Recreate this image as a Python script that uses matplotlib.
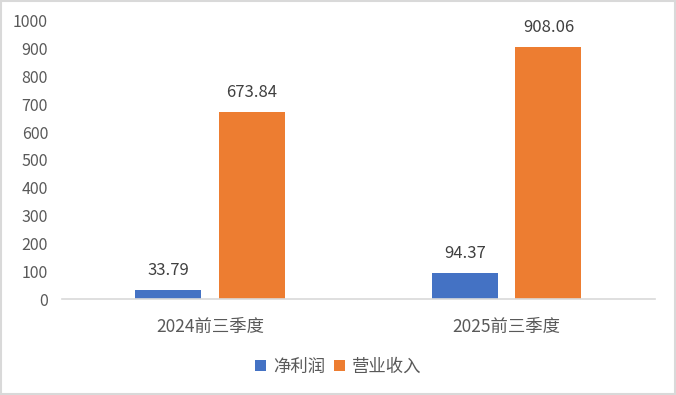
import numpy as np
import matplotlib.pyplot as plt
from matplotlib.patches import Rectangle

plt.rcParams['font.family'] = ['Noto Sans CJK SC', 'DejaVu Sans']

categories = ['2024前三季度', '2025前三季度']
net_profit = [33.79, 94.37]
revenue = [673.84, 908.06]
series_names = ['净利润', '营业收入']

text_color = '#595959'

fig = plt.figure(figsize=(6.76, 3.95), dpi=100)
ax = fig.add_axes([0.0917, 0.243, 0.877, 0.704])

x = np.arange(len(categories))
w = 0.223
off = 0.141
b1 = ax.bar(x - off, net_profit, w, color='#4472C4', label=series_names[0])
b2 = ax.bar(x + off, revenue, w, color='#ED7D31', label=series_names[1])

for bars, vals in ((b1, net_profit), (b2, revenue)):
    for r, v in zip(bars, vals):
        ax.text(r.get_x() + r.get_width() / 2, v + 38, f'{v:.2f}',
                ha='center', va='bottom', fontsize=12, color='#404040')

ax.set_xlim(-0.5, 1.5)
ax.set_ylim(0, 1000)
ax.set_yticks(range(0, 1001, 100))
ax.set_xticks(x)
ax.set_xticklabels(categories, fontsize=12.5)
ax.tick_params(axis='y', labelsize=11.5)
ax.tick_params(axis='both', length=0, colors=text_color)
ax.tick_params(axis='x', pad=14)
ax.tick_params(axis='y', pad=10)
for s in ('top', 'right', 'left'):
    ax.spines[s].set_visible(False)
ax.spines['bottom'].set_color('#d9d9d9')
ax.spines['bottom'].set_linewidth(1.2)

leg = fig.legend(loc='center', bbox_to_anchor=(0.5, 0.072), ncol=2, frameon=False,
                 fontsize=12.5, handlelength=0.65, handleheight=0.65, handletextpad=0.4,
                 columnspacing=0.5)
for t in leg.get_texts():
    t.set_color(text_color)

fig.patches.append(Rectangle((0.002, 0.003), 0.996, 0.994, transform=fig.transFigure,
                             fill=False, edgecolor='#d9d9d9', linewidth=1.5))

fig.savefig('out.png', dpi=100)
